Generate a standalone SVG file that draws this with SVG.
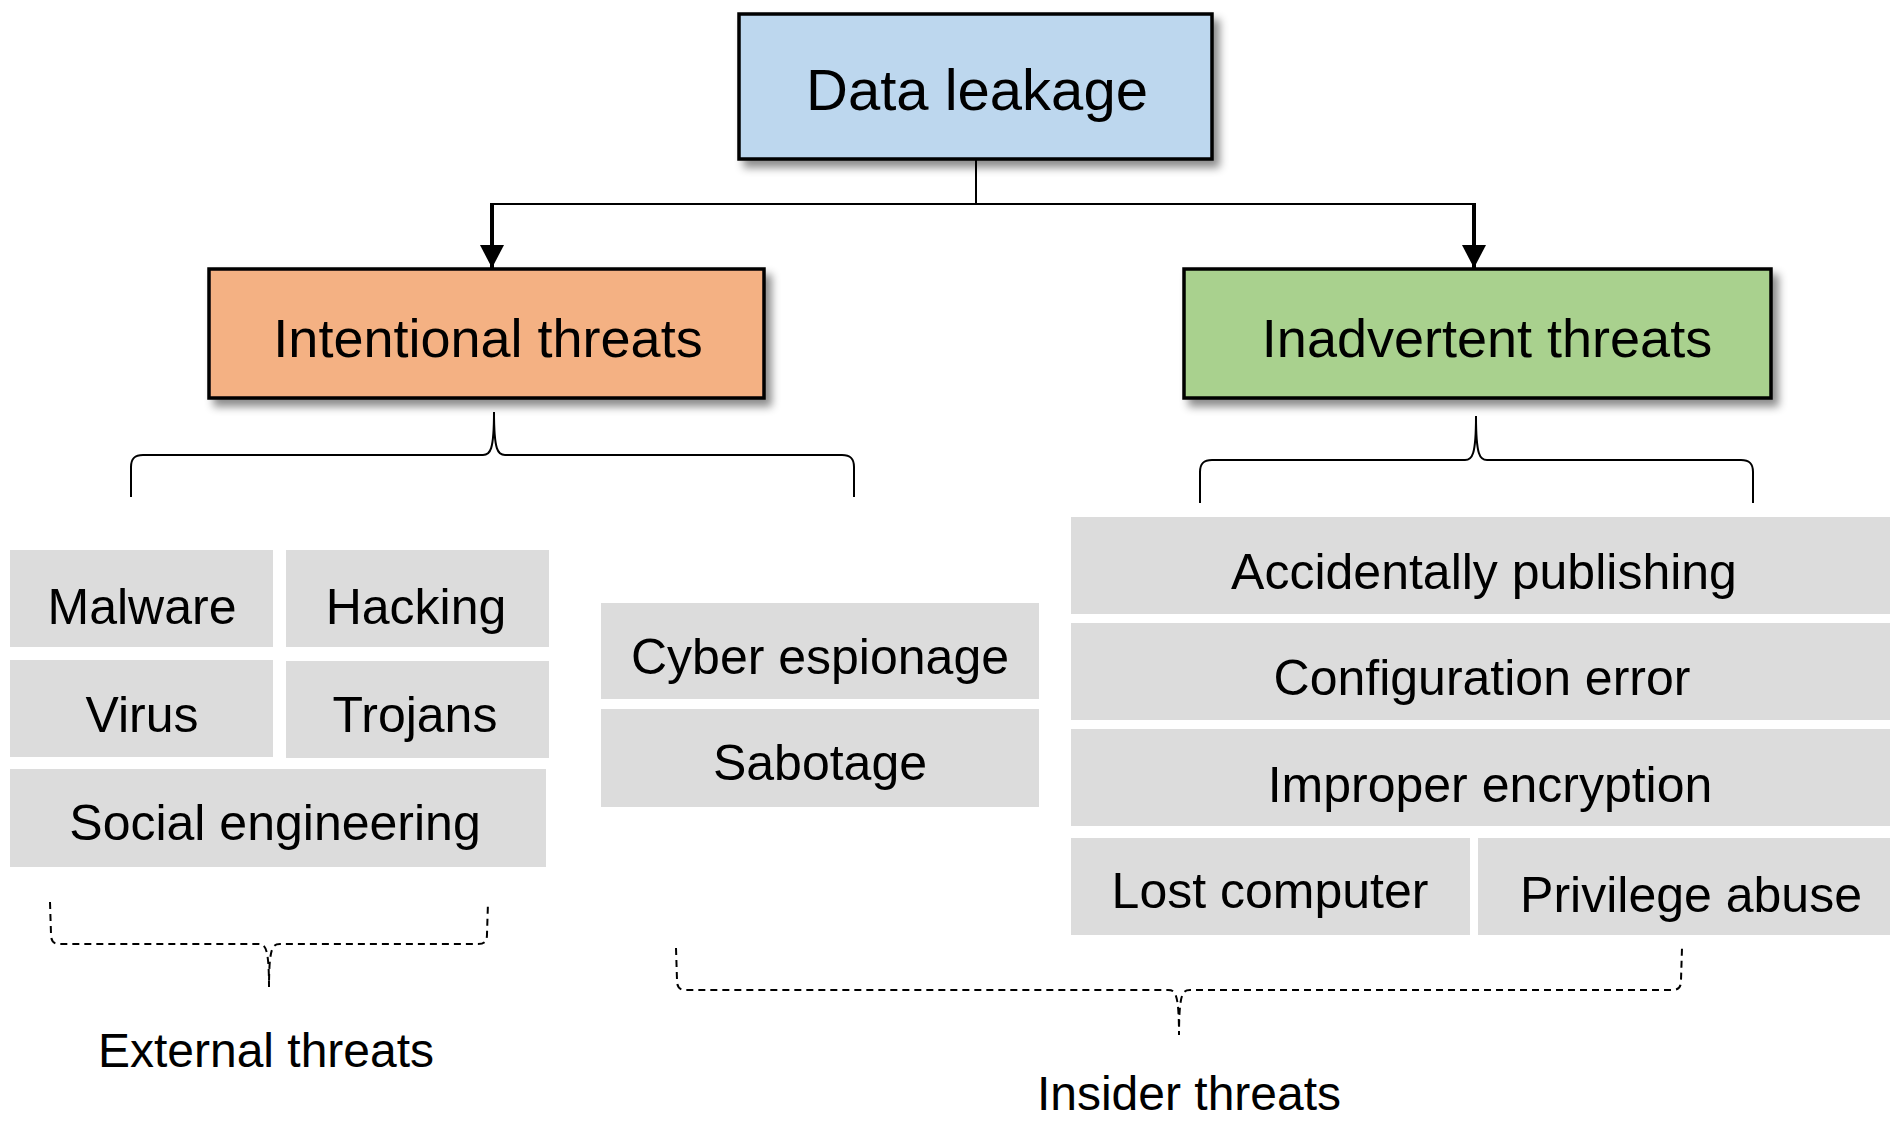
<svg xmlns="http://www.w3.org/2000/svg" width="1902" height="1128" viewBox="0 0 1902 1128">
  <defs>
    <filter id="shadow" x="-10%" y="-10%" width="125%" height="135%">
      <feDropShadow dx="6" dy="7" stdDeviation="4" flood-color="#000" flood-opacity="0.45"/>
    </filter>
    <marker id="arrow" viewBox="0 0 23 24" refX="23" refY="12" markerWidth="23" markerHeight="24" markerUnits="userSpaceOnUse" orient="auto">
      <path d="M0,0 L23,12 L0,24 Z" fill="#000"/>
    </marker>
    <style>
      text { font-family: "Liberation Sans", Arial, Helvetica, sans-serif; fill: #000; text-anchor: middle; }
      .main { stroke: #000; stroke-width: 3.5; filter: url(#shadow); }
      .item { fill: #DCDCDC; }
      .t58 { font-size: 58px; }
      .t54 { font-size: 54px; }
      .t50 { font-size: 50px; }
      .t48 { font-size: 48px; }
      .line { fill: none; stroke: #000; stroke-width: 2; }
      .arr { fill: none; stroke: #000; stroke-width: 4; }
      .dash { fill: none; stroke: #000; stroke-width: 2; stroke-dasharray: 7 5; }
    </style>
  </defs>
  <rect width="1902" height="1128" fill="#fff"/>

  <g id="connectors">
    <path class="line" d="M976,159 L976,204"/>
    <path class="line" d="M492,204 L1474,204"/>
    <path class="arr" d="M492,203 L492,268" marker-end="url(#arrow)"/>
    <path class="arr" d="M1474,203 L1474,268" marker-end="url(#arrow)"/>
    <!-- brace under Intentional threats -->
    <path class="line" d="M131,497 L131,467 C131,459 134,455 143,455 L483,455 C490,455 494,451 494,412 C494,451 498,455 505,455 L842,455 C851,455 854,459 854,467 L854,497"/>
    <!-- brace under Inadvertent threats -->
    <path class="line" d="M1200,503 L1200,472 C1200,464 1203,460 1212,460 L1465,460 C1472,460 1476,456 1476,416 C1476,456 1480,460 1487,460 L1741,460 C1750,460 1753,464 1753,472 L1753,503"/>
    <!-- dashed brace External threats -->
    <path class="dash" d="M50,902 L51,934 C51,941 53,944 60,944 L258,944 C265,944 269,946 269,987 C269,946 273,944 280,944 L478,944 C485,944 487,941 487,934 L488,902"/>
    <!-- dashed brace Insider threats -->
    <path class="dash" d="M676,948 L677,980 C677,987 679,990 686,990 L1168,990 C1175,990 1179,992 1179,1035 C1179,992 1183,990 1190,990 L1672,990 C1679,990 1681,987 1681,980 L1682,948"/>
  </g>

  <g id="data-leakage">
    <rect class="main" x="739" y="14" width="473" height="145" fill="#BDD7EE"/>
    <text class="t58" x="977" y="110">Data leakage</text>
  </g>
  <g id="intentional-threats">
    <rect class="main" x="209" y="269" width="555" height="129" fill="#F4B183"/>
    <text class="t54" x="488" y="357">Intentional threats</text>
  </g>
  <g id="inadvertent-threats">
    <rect class="main" x="1184" y="269" width="587" height="129" fill="#A9D18E"/>
    <text class="t54" x="1487" y="357">Inadvertent threats</text>
  </g>

  <g id="malware"><rect class="item" x="10" y="550" width="263" height="97"/><text class="t50" x="142" y="624">Malware</text></g>
  <g id="hacking"><rect class="item" x="286" y="550" width="263" height="97"/><text class="t50" x="416" y="624">Hacking</text></g>
  <g id="virus"><rect class="item" x="10" y="660" width="263" height="97"/><text class="t50" x="142" y="732">Virus</text></g>
  <g id="trojans"><rect class="item" x="286" y="661" width="263" height="97"/><text class="t50" x="415" y="732">Trojans</text></g>
  <g id="social-engineering"><rect class="item" x="10" y="769" width="536" height="98"/><text class="t50" x="275" y="840">Social engineering</text></g>

  <g id="cyber-espionage"><rect class="item" x="601" y="603" width="438" height="96"/><text class="t50" x="820" y="674">Cyber espionage</text></g>
  <g id="sabotage"><rect class="item" x="601" y="709" width="438" height="98"/><text class="t50" x="820" y="780">Sabotage</text></g>

  <g id="accidentally-publishing"><rect class="item" x="1071" y="517" width="819" height="97"/><text class="t50" x="1484" y="589">Accidentally publishing</text></g>
  <g id="configuration-error"><rect class="item" x="1071" y="623" width="819" height="97"/><text class="t50" x="1482" y="695">Configuration error</text></g>
  <g id="improper-encryption"><rect class="item" x="1071" y="729" width="819" height="97"/><text class="t50" x="1490" y="802">Improper encryption</text></g>
  <g id="lost-computer"><rect class="item" x="1071" y="838" width="399" height="97"/><text class="t50" x="1270" y="908">Lost computer</text></g>
  <g id="privilege-abuse"><rect class="item" x="1478" y="838" width="412" height="97"/><text class="t50" x="1691" y="912">Privilege abuse</text></g>

  <g id="external-threats"><text class="t48" x="266" y="1067">External threats</text></g>
  <g id="insider-threats"><text class="t48" x="1189" y="1110">Insider threats</text></g>
</svg>
